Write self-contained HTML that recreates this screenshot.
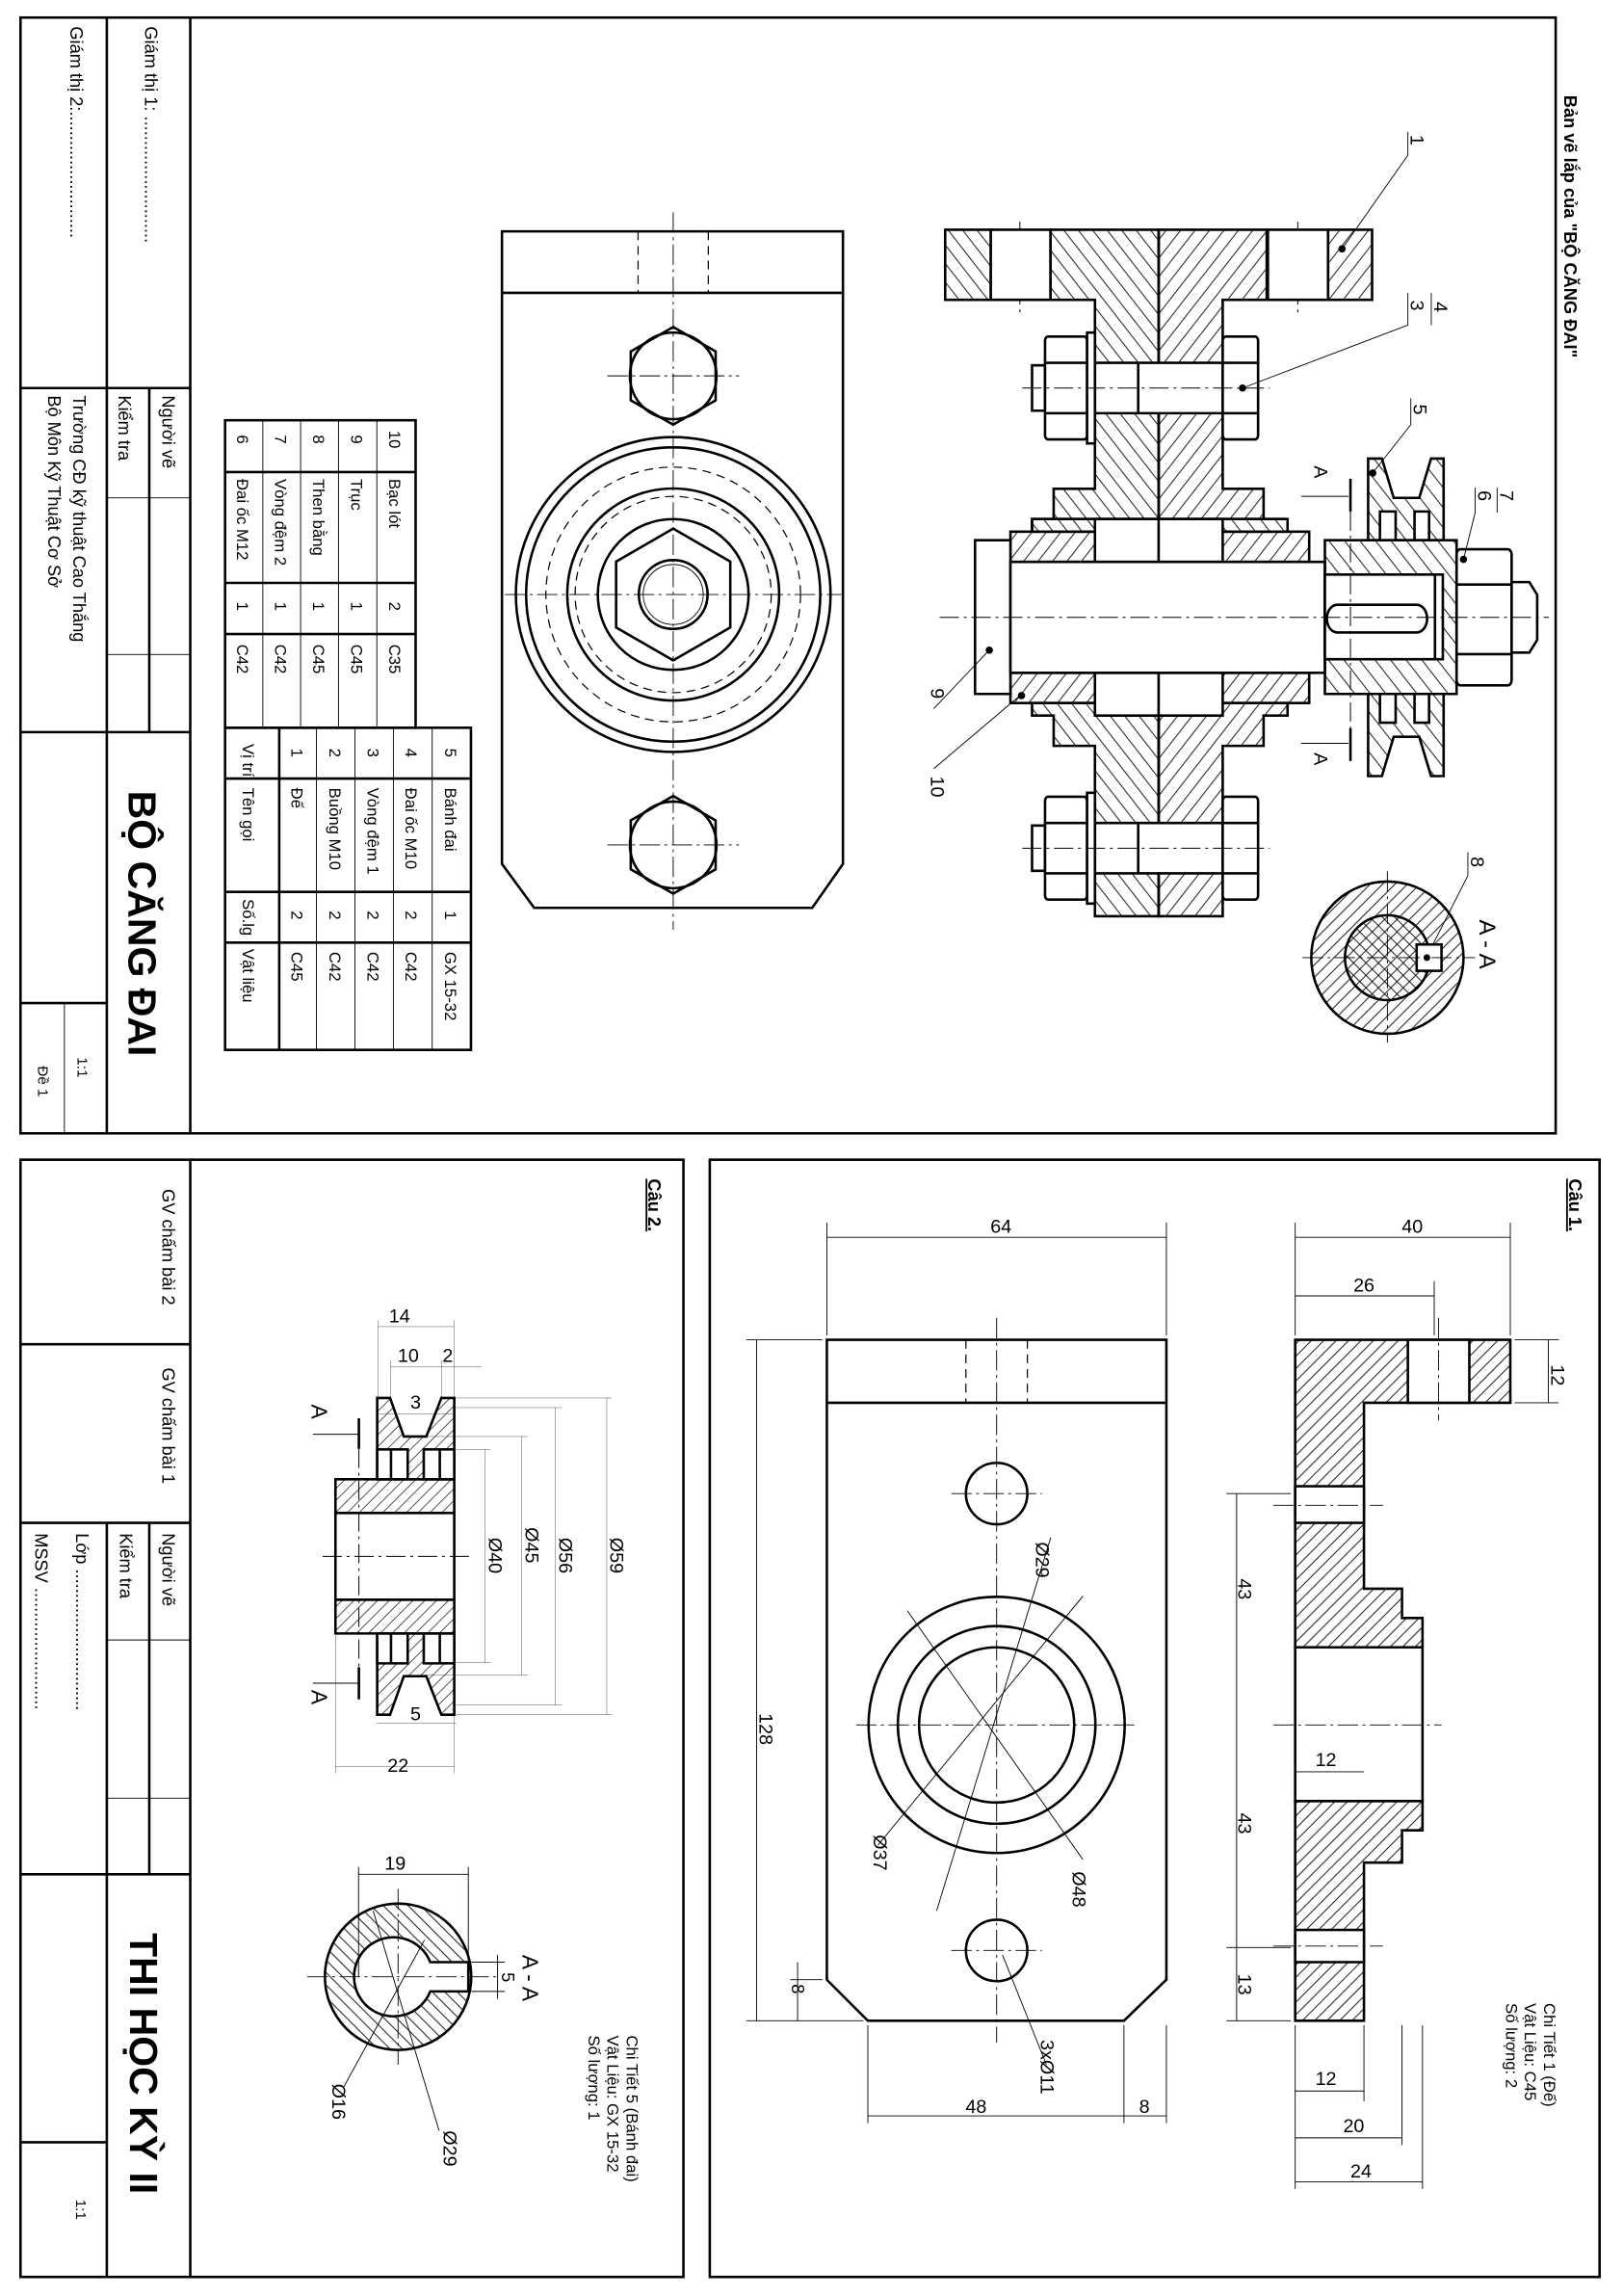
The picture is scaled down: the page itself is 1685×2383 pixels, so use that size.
<!DOCTYPE html>
<html><head><meta charset="utf-8"><style>
html,body{margin:0;padding:0;background:#fff}
svg{display:block}
text{font-family:"Liberation Sans","DejaVu Sans",sans-serif;fill:#000}
.k{stroke:#000;stroke-width:1.7;fill:none}
.t{stroke:#000;stroke-width:0.6;fill:none}
.c{stroke:#000;stroke-width:0.6;fill:none;stroke-dasharray:14 3 2 3}
.d{stroke:#000;stroke-width:0.8;fill:none;stroke-dasharray:6 4}
.sk{vector-effect:non-scaling-stroke;stroke:#000;stroke-width:2.6}
.st{vector-effect:non-scaling-stroke;stroke:#000;stroke-width:1}
.sc{vector-effect:non-scaling-stroke;stroke:#000;stroke-width:1;stroke-dasharray:20 5 3 5;fill:none}
</style></head><body>
<svg width="1685" height="2383" viewBox="0 0 1109 1568" preserveAspectRatio="none" xmlns="http://www.w3.org/2000/svg">
<defs>
<pattern id="H" patternUnits="userSpaceOnUse" width="6" height="6" patternTransform="rotate(45)"><line x1="3" y1="0" x2="3" y2="6" stroke="#000" stroke-width="0.6"/></pattern>
<pattern id="G" patternUnits="userSpaceOnUse" width="6" height="6" patternTransform="rotate(-45)"><line x1="3" y1="0" x2="3" y2="6" stroke="#000" stroke-width="0.6"/></pattern>
<pattern id="H2" patternUnits="userSpaceOnUse" width="26" height="26" patternTransform="rotate(45)"><line x1="13" y1="0" x2="13" y2="26" stroke="#000" stroke-width="2"/></pattern>
<pattern id="G2" patternUnits="userSpaceOnUse" width="26" height="26" patternTransform="rotate(-45)"><line x1="13" y1="0" x2="13" y2="26" stroke="#000" stroke-width="2"/></pattern>
<pattern id="P" patternUnits="userSpaceOnUse" width="28" height="28" patternTransform="rotate(-45)"><line x1="14" y1="0" x2="14" y2="28" stroke="#000" stroke-width="2"/></pattern>
</defs>
<rect width="1109" height="1568" fill="#fff"/>

<!-- ===== TOP SHEET ===== -->
<rect x="14" y="12" width="1049" height="762" class="k" stroke-width="2"/>
<line x1="130" y1="12" x2="130" y2="774" class="k"/>
<line x1="73" y1="12" x2="73" y2="774" class="k"/>
<line x1="14" y1="265" x2="130" y2="265" class="k"/>
<line x1="102" y1="265" x2="102" y2="500" class="k"/>
<line x1="73" y1="340" x2="130" y2="340" class="t"/>
<line x1="73" y1="447" x2="130" y2="447" class="t"/>
<line x1="14" y1="500" x2="130" y2="500" class="k"/>
<line x1="14" y1="685" x2="73" y2="685" class="k"/>
<line x1="44" y1="685" x2="44" y2="774" class="t"/>
<g font-size="12">
<text transform="translate(99,18) rotate(90)">Giám thị 1: ..........................</text>
<text transform="translate(48,18) rotate(90)">Giám thị 2:..........................</text>
<text transform="translate(111,270) rotate(90)">Người vẽ</text>
<text transform="translate(81,270) rotate(90)">Kiểm tra</text>
<text transform="translate(50,270) rotate(90)">Trường CĐ kỹ thuật Cao Thắng</text>
<text transform="translate(33,270) rotate(90)">Bộ Môn Kỹ Thuật Cơ Sở</text>
<text transform="translate(53,722) rotate(90)" font-size="10">1:1</text>
<text transform="translate(26,728) rotate(90)" font-size="10">Đề 1</text>
</g>
<text transform="translate(88,540) rotate(90)" font-size="27" font-weight="bold">BỘ CĂNG ĐAI</text>
<text transform="translate(1069,65) rotate(90)" font-size="12" font-weight="bold">Bản vẽ lắp của "BỘ CĂNG ĐAI"</text>

<!-- parts table -->
<g>
<rect x="153.8" y="287" width="130.2" height="210" class="k"/>
<g class="t"><line x1="179.6" y1="287" x2="179.6" y2="497"/><line x1="205.4" y1="287" x2="205.4" y2="497"/><line x1="231.3" y1="287" x2="231.3" y2="497"/><line x1="257.5" y1="287" x2="257.5" y2="497"/></g>
<g class="k"><line x1="153.8" y1="322.4" x2="284" y2="322.4"/><line x1="153.8" y1="398.1" x2="284" y2="398.1"/><line x1="153.8" y1="433" x2="284" y2="433"/></g>
<rect x="153.8" y="497" width="168" height="220" class="k"/>
<line x1="190.8" y1="497" x2="190.8" y2="717" class="k"/>
<g class="t"><line x1="216.2" y1="497" x2="216.2" y2="717"/><line x1="242.5" y1="497" x2="242.5" y2="717"/><line x1="268.8" y1="497" x2="268.8" y2="717"/><line x1="295.3" y1="497" x2="295.3" y2="717"/></g>
<g class="k"><line x1="153.8" y1="531.7" x2="321.8" y2="531.7"/><line x1="153.8" y1="609.1" x2="321.8" y2="609.1"/><line x1="153.8" y1="643.7" x2="321.8" y2="643.7"/></g>
<g font-size="11">
<text transform="translate(162,297) rotate(90)">6</text><text transform="translate(162,327) rotate(90)">Đai ốc M12</text><text transform="translate(162,411) rotate(90)">1</text><text transform="translate(162,440) rotate(90)">C42</text>
<text transform="translate(188,297) rotate(90)">7</text><text transform="translate(188,327) rotate(90)">Vòng đệm 2</text><text transform="translate(188,411) rotate(90)">1</text><text transform="translate(188,440) rotate(90)">C42</text>
<text transform="translate(214,297) rotate(90)">8</text><text transform="translate(214,327) rotate(90)">Then bằng</text><text transform="translate(214,411) rotate(90)">1</text><text transform="translate(214,440) rotate(90)">C45</text>
<text transform="translate(240,297) rotate(90)">9</text><text transform="translate(240,327) rotate(90)">Trục</text><text transform="translate(240,411) rotate(90)">1</text><text transform="translate(240,440) rotate(90)">C45</text>
<text transform="translate(266,294) rotate(90)">10</text><text transform="translate(266,327) rotate(90)">Bạc lót</text><text transform="translate(266,411) rotate(90)">2</text><text transform="translate(266,440) rotate(90)">C35</text>
<text transform="translate(166,508) rotate(90)">Vị trí</text><text transform="translate(166,538) rotate(90)">Tên gọi</text><text transform="translate(166,614) rotate(90)">Số.lg</text><text transform="translate(166,648) rotate(90)">Vật liệu</text>
<text transform="translate(199,511) rotate(90)">1</text><text transform="translate(199,538) rotate(90)">Đế</text><text transform="translate(199,622) rotate(90)">2</text><text transform="translate(199,650) rotate(90)">C45</text>
<text transform="translate(225,511) rotate(90)">2</text><text transform="translate(225,538) rotate(90)">Buồng M10</text><text transform="translate(225,622) rotate(90)">2</text><text transform="translate(225,650) rotate(90)">C42</text>
<text transform="translate(251,511) rotate(90)">3</text><text transform="translate(251,538) rotate(90)">Vòng đệm 1</text><text transform="translate(251,622) rotate(90)">2</text><text transform="translate(251,650) rotate(90)">C42</text>
<text transform="translate(277,511) rotate(90)">4</text><text transform="translate(277,538) rotate(90)">Đai ốc M10</text><text transform="translate(277,622) rotate(90)">2</text><text transform="translate(277,650) rotate(90)">C42</text>
<text transform="translate(304,511) rotate(90)">5</text><text transform="translate(304,538) rotate(90)">Bánh đai</text><text transform="translate(304,622) rotate(90)">1</text><text transform="translate(304,650) rotate(90)">GX 15-32</text>
</g>
</g>

<!-- front view (middle) -->
<g>
<path d="M343,158 H576 V590 L555,620 H365 L343,590 Z" class="k"/>
<line x1="343" y1="200" x2="576" y2="200" class="k"/>
<line x1="436" y1="158" x2="436" y2="200" class="d"/><line x1="484" y1="158" x2="484" y2="200" class="d"/>
<line x1="460" y1="145" x2="460" y2="635" class="c"/>
<line x1="415" y1="256.7" x2="505" y2="256.7" class="c"/>
<line x1="415" y1="577" x2="505" y2="577" class="c"/>
<line x1="345" y1="406" x2="575" y2="406" class="c"/>
<polygon points="460,223.3 489,240 489,273.4 460,290 431,273.4 431,240" class="k"/>
<circle cx="460" cy="256.7" r="29.6" class="k"/>
<polygon points="460,543.6 489,560.3 489,593.7 460,610.3 431,593.7 431,560.3" class="k"/>
<circle cx="460" cy="577" r="29.6" class="k"/>
<circle cx="460" cy="406" r="107.5" class="k"/>
<circle cx="460" cy="406" r="100.5" class="k"/>
<circle cx="460" cy="406" r="87" class="d"/>
<circle cx="460" cy="406" r="72.4" class="k"/>
<circle cx="460" cy="406" r="67" class="d"/>
<circle cx="460" cy="406" r="51.5" class="k"/>
<polygon points="460,361 499,383.5 499,428.5 460,451 421,428.5 421,383.5" class="k"/>
<circle cx="460" cy="406" r="23.5" class="k"/>
<circle cx="460" cy="406" r="20.5" class="t"/>
</g>

<!-- assembly section -->
<g transform="translate(658.2,151.4) scale(0.2686,0.3442)" fill="none">
<line x1="144" y1="0" x2="144" y2="180" class="sc"/><line x1="851" y1="0" x2="851" y2="180" class="sc"/>
<rect x="-46" y="16" width="116" height="139" fill="url(#G2)" class="sk"/>
<rect x="70" y="16" width="152" height="139" fill="#fff" class="sk"/>
<rect x="775" y="16" width="153" height="139" fill="#fff" class="sk"/>
<rect x="928" y="16" width="112" height="139" fill="url(#H2)" class="sk"/>
<path d="M222,16 H497 V590 H175 V615 H175 V590 H230 V530 H335 V155 H222 Z" fill="url(#G2)" class="sk"/>
<path d="M772,16 H497 V590 H819 V590 H764 V530 H660 V155 H772 Z" fill="url(#H2)" class="sk"/>
<rect x="175" y="590" width="650" height="25" fill="url(#G2)" class="sk"/>
<path d="M497,955 H825 V980 H764 V1040 H660 V1378 H497 Z" fill="url(#H2)" class="sk"/>
<path d="M175,955 H497 V1378 H335 V1040 H230 V980 H175 Z" fill="url(#G2)" class="sk"/>
<rect x="120" y="615" width="760" height="60" fill="url(#H2)" class="sk"/>
<rect x="120" y="895" width="760" height="60" fill="url(#H2)" class="sk"/>
<rect x="335" y="590" width="325" height="85" fill="#fff" class="sk"/>
<rect x="335" y="895" width="325" height="85" fill="#fff" class="sk"/>
<line x1="497" y1="16" x2="497" y2="1378" class="sk"/>
<rect x="30" y="632" width="90" height="305" fill="#fff" class="sk"/>
<rect x="120" y="675" width="800" height="220" fill="#fff" class="sk"/>
<!-- bolts -->
<g>
<rect x="335" y="280" width="325" height="100" fill="#fff" class="sk"/><line x1="445" y1="280" x2="445" y2="380" class="sk"/>
<rect x="175" y="285" width="33" height="90" fill="#fff" class="sk"/>
<rect x="208" y="228" width="107" height="204" rx="8" fill="#fff" class="sk"/><line x1="208" y1="280" x2="315" y2="280" class="sk"/><line x1="208" y1="380" x2="315" y2="380" class="sk"/>
<rect x="315" y="220" width="20" height="220" fill="#fff" class="sk"/>
<rect x="660" y="228" width="90" height="204" rx="8" fill="#fff" class="sk"/><line x1="660" y1="280" x2="750" y2="280" class="sk"/><line x1="660" y1="380" x2="750" y2="380" class="sk"/>
<line x1="150" y1="330" x2="780" y2="330" class="sc"/>
</g>
<g transform="translate(0,913)">
<rect x="335" y="280" width="325" height="100" fill="#fff" class="sk"/><line x1="445" y1="280" x2="445" y2="380" class="sk"/>
<rect x="175" y="285" width="33" height="90" fill="#fff" class="sk"/>
<rect x="208" y="228" width="107" height="204" rx="8" fill="#fff" class="sk"/><line x1="208" y1="280" x2="315" y2="280" class="sk"/><line x1="208" y1="380" x2="315" y2="380" class="sk"/>
<rect x="315" y="220" width="20" height="220" fill="#fff" class="sk"/>
<rect x="660" y="228" width="90" height="204" rx="8" fill="#fff" class="sk"/><line x1="660" y1="280" x2="750" y2="280" class="sk"/><line x1="660" y1="380" x2="750" y2="380" class="sk"/>
<line x1="150" y1="330" x2="780" y2="330" class="sc"/>
</g>
<!-- pulley -->
<path d="M1030,470 H1065 L1095,548 H1160 L1190,470 H1222 V632 H1030 Z" fill="url(#P)" class="sk"/>
<path d="M1030,1100 H1065 L1095,1022 H1160 L1190,1100 H1222 V937 H1030 Z" fill="url(#P)" class="sk"/>
<rect x="1060" y="575" width="40" height="57" fill="#fff" class="sk"/><rect x="1148" y="575" width="37" height="57" fill="#fff" class="sk"/>
<rect x="1060" y="937" width="40" height="57" fill="#fff" class="sk"/><rect x="1148" y="937" width="37" height="57" fill="#fff" class="sk"/>
<rect x="920" y="632" width="335" height="305" fill="url(#P)" class="sk"/>
<rect x="920" y="700" width="280" height="168" fill="#fff" class="sk"/>
<rect x="925" y="760" width="255" height="55" rx="27" fill="#fff" class="sk"/>
<rect x="1200" y="700" width="20" height="168" fill="#fff" class="sk"/>
<rect x="1255" y="650" width="140" height="270" rx="10" fill="#fff" class="sk"/><line x1="1255" y1="720" x2="1395" y2="720" class="sk"/><line x1="1255" y1="858" x2="1395" y2="858" class="sk"/>
<path d="M1395,715 H1440 L1460,740 V830 L1440,855 H1395 Z" fill="#fff" class="sk"/>
<line x1="985" y1="510" x2="985" y2="575" class="sk"/><line x1="985" y1="1005" x2="985" y2="1070" class="sk"/>
<line x1="985" y1="575" x2="985" y2="1005" class="sc"/>
<line x1="860" y1="545" x2="980" y2="545" class="st"/><line x1="860" y1="1035" x2="980" y2="1035" class="st"/>
<line x1="-60" y1="785" x2="1490" y2="785" class="sc"/>
</g>
<!-- assembly labels -->
<g font-size="13">
<text transform="translate(964,92) rotate(90)">1</text><line x1="962" y1="90" x2="962" y2="106" class="t"/>
<line x1="962" y1="106" x2="917" y2="170" class="t"/><circle cx="917" cy="170" r="2.5"/>
<text transform="translate(980,206) rotate(90)">4</text><text transform="translate(964,205) rotate(90)">3</text>
<line x1="978" y1="200" x2="978" y2="222" class="t"/><line x1="962" y1="200" x2="962" y2="222" class="t"/>
<line x1="962" y1="222" x2="849" y2="265" class="t"/><circle cx="849" cy="265" r="2.5"/>
<text transform="translate(966,276) rotate(90)">5</text><line x1="964" y1="272" x2="964" y2="290" class="t"/>
<line x1="964" y1="290" x2="938" y2="323" class="t"/><circle cx="938" cy="323" r="2.5"/>
<text transform="translate(1025,335) rotate(90)">7</text><text transform="translate(1010,335) rotate(90)">6</text>
<line x1="1008" y1="333" x2="1008" y2="350" class="t"/><line x1="1023" y1="333" x2="1023" y2="350" class="t"/>
<line x1="1008" y1="350" x2="1000" y2="382" class="t"/><circle cx="1000" cy="382" r="2.5"/>
<text transform="translate(636,470) rotate(90)">9</text><line x1="638" y1="484" x2="675" y2="445" class="t"/><circle cx="676" cy="444" r="2.5"/>
<text transform="translate(636,530) rotate(90)">10</text><line x1="638" y1="525" x2="697" y2="475" class="t"/><circle cx="698" cy="475" r="2.5"/>
<text transform="translate(898,318) rotate(90)">A</text><text transform="translate(898,514) rotate(90)">A</text>
<text transform="translate(1005,585) rotate(90)">8</text><line x1="1003" y1="582" x2="1003" y2="598" class="t"/>
<line x1="1003" y1="598" x2="975" y2="653" class="t"/>
<text transform="translate(1011,628) rotate(90)" font-size="16">A - A</text>
</g>
<!-- A-A section -->
<g>
<circle cx="948" cy="654" r="52" style="fill:url(#H)" class="k"/>
<circle cx="948" cy="654" r="29" style="fill:url(#G)" class="k"/>
<rect x="968" y="645" width="17" height="18" style="fill:#fff" class="k"/><circle cx="975" cy="654" r="2.3"/>
<line x1="890" y1="654" x2="1008" y2="654" class="c"/><line x1="948" y1="595" x2="948" y2="712" class="c"/>
</g>

<!-- ===== BOTTOM LEFT SHEET ===== -->
<rect x="14" y="792" width="453" height="763" class="k" stroke-width="2"/>
<line x1="130" y1="792" x2="130" y2="1555" class="k"/>
<line x1="73" y1="1040" x2="73" y2="1555" class="k"/>
<line x1="102" y1="1040" x2="102" y2="1280" class="k"/>
<line x1="14" y1="918" x2="130" y2="918" class="k"/>
<line x1="14" y1="1040" x2="130" y2="1040" class="k"/>
<line x1="73" y1="1120" x2="130" y2="1120" class="t"/>
<line x1="73" y1="1228" x2="130" y2="1228" class="t"/>
<line x1="14" y1="1280" x2="130" y2="1280" class="k"/>
<line x1="14" y1="1463" x2="73" y2="1463" class="k"/>
<g font-size="12">
<text transform="translate(111,812) rotate(90)">GV chấm bài 2</text>
<text transform="translate(111,934) rotate(90)">GV chấm bài 1</text>
<text transform="translate(111,1047) rotate(90)">Người vẽ</text>
<text transform="translate(82,1047) rotate(90)">Kiểm tra</text>
<text transform="translate(52,1047) rotate(90)">Lớp .............................</text>
<text transform="translate(24,1047) rotate(90)">MSSV .........................</text>
<text transform="translate(52,1502) rotate(90)" font-size="10">1:1</text>
</g>
<text transform="translate(89,1320) rotate(90)" font-size="27" font-weight="bold">THI HỌC KỲ II</text>
<text transform="translate(443,805) rotate(90)" font-size="12" font-weight="bold" text-decoration="underline">Câu 2.</text>
<g font-size="11">
<text transform="translate(428,1390) rotate(90)">Chi Tiết 5 (Bánh đai)</text>
<text transform="translate(415,1390) rotate(90)">Vật Liệu: GX 15-32</text>
<text transform="translate(402,1390) rotate(90)">Số lượng: 1</text>
</g>
<!-- pulley drawing -->
<g transform="translate(197.4,875.3) scale(0.2194)" fill="none">
<path d="M275,362 H315 L358,482 H428 L475,362 H515 V615 H275 Z" fill="url(#H2)" class="sk"/>
<path d="M275,1348 H315 L358,1228 H428 L475,1348 H515 V1095 H275 Z" fill="url(#H2)" class="sk"/>
<rect x="275" y="522" width="95" height="93" fill="#fff" class="sk"/><rect x="420" y="522" width="95" height="93" fill="#fff" class="sk"/>
<line x1="318" y1="522" x2="318" y2="615" class="sk"/><line x1="470" y1="522" x2="470" y2="615" class="sk"/>
<rect x="275" y="1095" width="95" height="93" fill="#fff" class="sk"/><rect x="420" y="1095" width="95" height="93" fill="#fff" class="sk"/>
<line x1="318" y1="1095" x2="318" y2="1188" class="sk"/><line x1="470" y1="1095" x2="470" y2="1188" class="sk"/>
<rect x="145" y="615" width="370" height="105" fill="url(#H2)" class="sk"/>
<rect x="145" y="990" width="370" height="105" fill="url(#H2)" class="sk"/>
<rect x="145" y="720" width="370" height="270" fill="#fff" class="sk"/>
<line x1="105" y1="855" x2="575" y2="855" class="sc"/>
<line x1="218" y1="425" x2="218" y2="520" class="sk"/><line x1="218" y1="1200" x2="218" y2="1300" class="sk"/>
<line x1="218" y1="520" x2="218" y2="1200" class="sc"/>
<line x1="75" y1="475" x2="215" y2="475" class="st"/><line x1="75" y1="1250" x2="215" y2="1250" class="st"/>
<g class="st">
<line x1="277" y1="120" x2="277" y2="360"/><line x1="515" y1="120" x2="515" y2="360"/><line x1="277" y1="140" x2="515" y2="140"/>
<line x1="317" y1="245" x2="317" y2="360"/><line x1="475" y1="245" x2="475" y2="360"/><line x1="317" y1="265" x2="600" y2="265"/>
<line x1="280" y1="412" x2="510" y2="412"/>
<line x1="520" y1="362" x2="1005" y2="362"/><line x1="520" y1="392" x2="850" y2="392"/><line x1="430" y1="482" x2="745" y2="482"/><line x1="470" y1="522" x2="628" y2="522"/>
<line x1="520" y1="1348" x2="1005" y2="1348"/><line x1="520" y1="1318" x2="850" y2="1318"/><line x1="430" y1="1225" x2="745" y2="1225"/><line x1="470" y1="1185" x2="628" y2="1185"/>
<line x1="610" y1="522" x2="610" y2="1185"/><line x1="725" y1="482" x2="725" y2="1225"/><line x1="830" y1="392" x2="830" y2="1318"/><line x1="990" y1="362" x2="990" y2="1348"/>
<line x1="272" y1="1375" x2="520" y2="1375"/>
<line x1="145" y1="1100" x2="145" y2="1530"/><line x1="515" y1="1350" x2="515" y2="1530"/><line x1="145" y1="1510" x2="515" y2="1510"/>
</g>
</g>
<g font-size="13">
<text x="273" y="903" text-anchor="middle">14</text>
<text x="279" y="930" text-anchor="middle">10</text><text x="306" y="930" text-anchor="middle">2</text>
<text x="284" y="962" text-anchor="middle">3</text>
<text x="284" y="1175" text-anchor="middle">5</text>
<text x="272" y="1210" text-anchor="middle">22</text>
<text transform="translate(334,1050) rotate(90)">Ø40</text>
<text transform="translate(359,1043) rotate(90)">Ø45</text>
<text transform="translate(382,1050) rotate(90)">Ø56</text>
<text transform="translate(417,1050) rotate(90)">Ø59</text>
<text transform="translate(213,959) rotate(90)" font-size="15">A</text>
<text transform="translate(213,1154) rotate(90)" font-size="15">A</text>
</g>
<!-- pulley A-A -->
<g>
<circle cx="272" cy="1350" r="50" style="fill:url(#G)" class="k"/>
<path d="M294,1340 A27,27 0 1,0 294,1360 H320 V1340 Z" style="fill:#fff" class="k"/>
<line x1="210" y1="1350" x2="340" y2="1350" class="c"/><line x1="272" y1="1290" x2="272" y2="1410" class="c"/>
<g class="t"><line x1="245" y1="1275" x2="245" y2="1350"/><line x1="320" y1="1275" x2="320" y2="1340"/><line x1="245" y1="1280" x2="320" y2="1280"/>
<line x1="322" y1="1340" x2="345" y2="1340"/><line x1="322" y1="1360" x2="345" y2="1360"/><line x1="340" y1="1335" x2="340" y2="1365"/>
<line x1="235" y1="1425" x2="290" y2="1325"/><line x1="300" y1="1455" x2="255" y2="1305"/></g>
<text x="270" y="1277" font-size="13" text-anchor="middle">19</text>
<text transform="translate(343,1347) rotate(90)" font-size="12">5</text>
<text transform="translate(357,1335) rotate(90)" font-size="15">A - A</text>
<text transform="translate(227,1423) rotate(90)" font-size="13">Ø16</text>
<text transform="translate(303,1455) rotate(90)" font-size="13">Ø29</text>
</g>

<!-- ===== BOTTOM RIGHT SHEET ===== -->
<rect x="485" y="792" width="608" height="763" class="k" stroke-width="2"/>
<text transform="translate(1072,805) rotate(90)" font-size="12" font-weight="bold" text-decoration="underline">Câu 1.</text>
<g font-size="11">
<text transform="translate(1055,1368) rotate(90)">Chi Tiết 1 (Đế)</text>
<text transform="translate(1042,1368) rotate(90)">Vật Liệu: C45</text>
<text transform="translate(1029,1368) rotate(90)">Số lượng: 2</text>
</g>
<!-- front view -->
<g>
<path d="M565,915 H797 V1352 L768,1380 H593 L565,1352 Z" class="k"/>
<line x1="565" y1="958" x2="797" y2="958" class="k"/>
<line x1="660" y1="915" x2="660" y2="958" class="d"/><line x1="702" y1="915" x2="702" y2="958" class="d"/>
<line x1="681" y1="900" x2="681" y2="1395" class="c"/>
<circle cx="681" cy="1020" r="21" class="k"/><line x1="650" y1="1020" x2="712" y2="1020" class="c"/>
<circle cx="681" cy="1332" r="21" class="k"/><line x1="650" y1="1332" x2="712" y2="1332" class="c"/>
<circle cx="681" cy="1178" r="87.5" class="k"/>
<circle cx="681" cy="1178" r="67.5" class="k"/>
<circle cx="681" cy="1178" r="53" class="k"/>
<line x1="585" y1="1178" x2="777" y2="1178" class="c"/>
<g class="t">
<line x1="565" y1="835" x2="565" y2="912"/><line x1="797" y1="835" x2="797" y2="912"/><line x1="565" y1="845" x2="797" y2="845"/>
<line x1="510" y1="915" x2="562" y2="915"/><line x1="510" y1="1380" x2="590" y2="1380"/><line x1="517" y1="915" x2="517" y2="1380"/>
<line x1="540" y1="1352" x2="562" y2="1352"/><line x1="545" y1="1340" x2="545" y2="1380"/>
<line x1="593" y1="1383" x2="593" y2="1450"/><line x1="768" y1="1383" x2="768" y2="1450"/><line x1="797" y1="1383" x2="797" y2="1450"/>
<line x1="593" y1="1445" x2="797" y2="1445"/>
<line x1="718" y1="1050" x2="640" y2="1305"/><line x1="600" y1="1260" x2="740" y2="1090"/><line x1="740" y1="1270" x2="620" y2="1100"/>
<line x1="685" y1="1335" x2="715" y2="1410"/>
</g>
<g font-size="13">
<text x="684" y="842" text-anchor="middle">64</text>
<text transform="translate(519,1170) rotate(90)">128</text>
<text transform="translate(541,1355) rotate(90)" font-size="12">8</text>
<text x="667" y="1443" text-anchor="middle">48</text>
<text x="782" y="1443" text-anchor="middle">8</text>
<text transform="translate(708,1053) rotate(90)">Ø29</text>
<text transform="translate(597,1253) rotate(90)">Ø37</text>
<text transform="translate(733,1278) rotate(90)">Ø48</text>
<text transform="translate(711,1393) rotate(90)">3xØ11</text>
</g>
</g>
<!-- side section view -->
<g>
<path d="M885,915 H1032 V958 H932 V1085 H958 V1105 H972 V1125 H885 Z" style="fill:url(#H)" class="k"/>
<path d="M885,1380 H932 V1272 H958 V1250 H972 V1230 H885 Z" style="fill:url(#H)" class="k"/>
<rect x="962" y="915" width="42" height="43" style="fill:#fff" class="k"/>
<line x1="983" y1="900" x2="983" y2="970" class="c"/>
<rect x="885" y="1015" width="47" height="25" style="fill:#fff" class="k"/>
<rect x="885" y="1318" width="47" height="22" style="fill:#fff" class="k"/>
<rect x="885" y="1125" width="87" height="105" style="fill:#fff" class="k"/>
<line x1="870" y1="1028" x2="945" y2="1028" class="c"/><line x1="870" y1="1329" x2="945" y2="1329" class="c"/>
<line x1="870" y1="1178" x2="985" y2="1178" class="c"/>
<g class="t">
<line x1="885" y1="835" x2="885" y2="912"/><line x1="1032" y1="835" x2="1032" y2="912"/><line x1="885" y1="845" x2="1032" y2="845"/>
<line x1="980" y1="875" x2="980" y2="912"/><line x1="885" y1="885" x2="980" y2="885"/>
<line x1="1035" y1="915" x2="1065" y2="915"/><line x1="1035" y1="958" x2="1065" y2="958"/><line x1="1058" y1="915" x2="1058" y2="958"/>
<line x1="838" y1="1020" x2="882" y2="1020"/><line x1="838" y1="1330" x2="882" y2="1330"/><line x1="838" y1="1380" x2="882" y2="1380"/>
<line x1="845" y1="1020" x2="845" y2="1380"/>
<line x1="885" y1="1210" x2="932" y2="1210"/>
<line x1="932" y1="1383" x2="932" y2="1435"/><line x1="958" y1="1383" x2="958" y2="1465"/><line x1="972" y1="1383" x2="972" y2="1495"/><line x1="885" y1="1383" x2="885" y2="1495"/>
<line x1="885" y1="1428" x2="932" y2="1428"/><line x1="885" y1="1460" x2="958" y2="1460"/><line x1="885" y1="1490" x2="972" y2="1490"/>
</g>
<g font-size="13">
<text x="965" y="842" text-anchor="middle">40</text>
<text x="932" y="882" text-anchor="middle">26</text>
<text transform="translate(1060,932) rotate(90)">12</text>
<text transform="translate(846,1078) rotate(90)">43</text>
<text transform="translate(846,1238) rotate(90)">43</text>
<text transform="translate(846,1348) rotate(90)">13</text>
<text x="906" y="1206" text-anchor="middle">12</text>
<text x="906" y="1424" text-anchor="middle">12</text>
<text x="925" y="1456" text-anchor="middle">20</text>
<text x="930" y="1487" text-anchor="middle">24</text>
</g>
</g>
</svg>
</body></html>
